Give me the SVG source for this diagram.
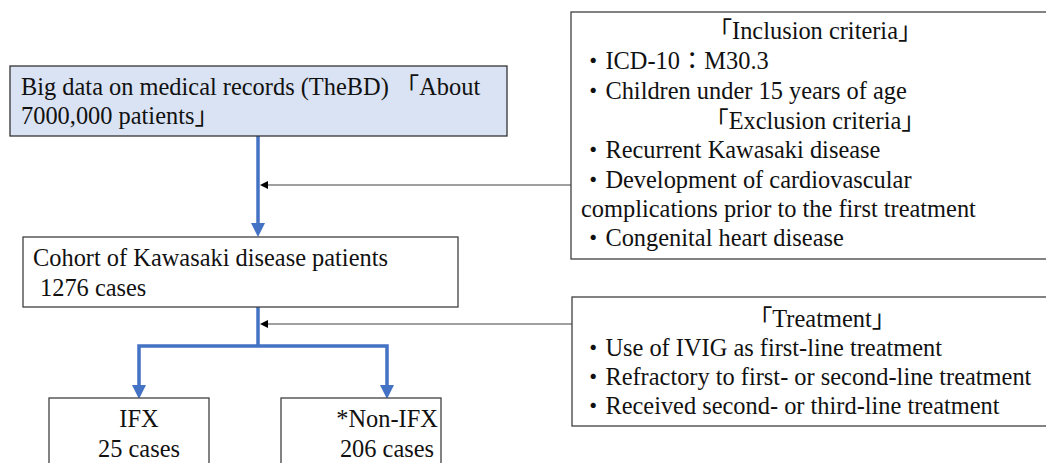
<svg xmlns="http://www.w3.org/2000/svg" width="1046" height="463" viewBox="0 0 1046 463">
<style>
text{font-family:"Liberation Serif","Noto Sans CJK JP",serif;font-size:24.4px;fill:#111}
.box{fill:#fff;stroke:#404040;stroke-width:1.3}
.mid{text-anchor:middle}
.blue{fill:none;stroke:#4472C4;stroke-width:3.5}
.thin{fill:none;stroke:#404040;stroke-width:1}
</style>
<defs>
<marker id="ab" markerWidth="4" markerHeight="4" refX="2" refY="2" orient="auto" markerUnits="strokeWidth" viewBox="0 0 4 4">
<path d="M0,0 L4,2 L0,4 z" fill="#4472C4"/>
</marker>
<marker id="ak" markerWidth="8" markerHeight="8" refX="6" refY="4" orient="auto" markerUnits="userSpaceOnUse" viewBox="0 0 8 8">
<path d="M0,0 L8,4 L0,8 z" fill="#000"/>
</marker>
</defs>
<g id="connectors">
<line class="blue" x1="258" y1="136" x2="258" y2="230" marker-end="url(#ab)"/>
<line class="blue" x1="258" y1="307" x2="258" y2="346"/>
<polyline class="blue" points="139,391 139,346 387,346 387,391"/>
<line class="blue" x1="139" y1="391" x2="139" y2="392" marker-end="url(#ab)"/>
<line class="blue" x1="387" y1="391" x2="387" y2="392" marker-end="url(#ab)"/>
<line class="thin" x1="571" y1="185" x2="262" y2="185" marker-end="url(#ak)"/>
<line class="thin" x1="572" y1="324" x2="262" y2="324" marker-end="url(#ak)"/>
</g>
<g id="bigdata">
<rect x="10" y="66" width="497" height="70" fill="#DAE3F3" stroke="#333" stroke-width="1.3"/>
<text x="21" y="95">Big data on medical records (TheBD) 「About</text>
<text x="21" y="124">7000,000 patients」</text>
</g>
<g id="inclusion">
<rect class="box" x="571" y="12" width="490" height="247"/>
<text class="mid" x="815" y="39">「Inclusion criteria」</text>
<text x="581" y="69">・ICD-10：M30.3</text>
<text x="581" y="99">・Children under 15 years of age</text>
<text class="mid" x="815" y="129">「Exclusion criteria」</text>
<text x="581" y="158">・Recurrent Kawasaki disease</text>
<text x="581" y="188">・Development of cardiovascular</text>
<text x="581" y="217">complications prior to the first treatment</text>
<text x="581" y="246">・Congenital heart disease</text>
</g>
<g id="cohort">
<rect class="box" x="23" y="237" width="435" height="70"/>
<text x="33" y="266">Cohort of Kawasaki disease patients</text>
<text x="40" y="296">1276 cases</text>
</g>
<g id="treatment">
<rect class="box" x="572" y="297" width="490" height="129"/>
<text class="mid" x="822" y="327">「Treatment」</text>
<text x="581" y="356">・Use of IVIG as first-line treatment</text>
<text x="581" y="385">・Refractory to first- or second-line treatment</text>
<text x="581" y="414">・Received second- or third-line treatment</text>
</g>
<g id="ifx">
<rect class="box" x="49" y="398" width="160" height="80"/>
<text class="mid" x="139" y="427">IFX</text>
<text class="mid" x="139" y="457">25 cases</text>
</g>
<g id="nonifx">
<rect class="box" x="281" y="398" width="160" height="80"/>
<text class="mid" x="387" y="427">*Non-IFX</text>
<text class="mid" x="387" y="457">206 cases</text>
</g>
</svg>
